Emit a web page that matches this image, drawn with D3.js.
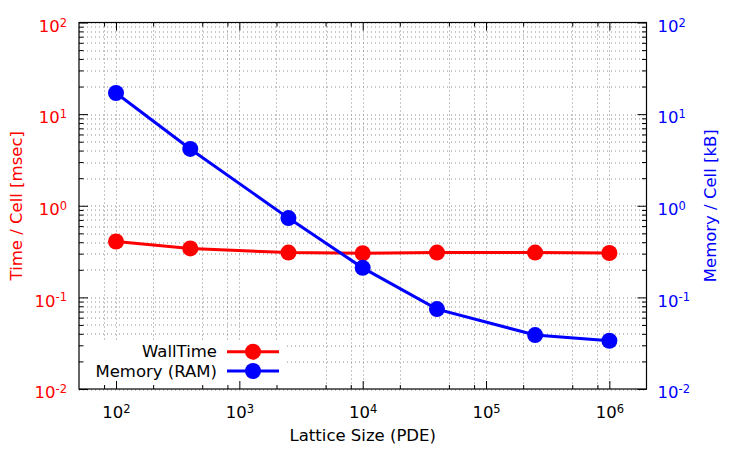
<!DOCTYPE html>
<html>
<head>
<meta charset="utf-8">
<script src="https://cdn.jsdelivr.net/npm/d3@7"></script>
<style>
  body { margin: 0; background: #fff; }
  text { font-family: "DejaVu Sans", sans-serif; }
</style>
</head>
<body>
<svg width="750" height="450"></svg>
<script>
// values
const latticeSizes = [100, 400, 2500, 10000, 40000, 250000, 1000000];
const wallTime = [0.407, 0.342, 0.308, 0.303, 0.308, 0.308, 0.305];
const memory = [17.0, 4.17, 0.733, 0.210, 0.0745, 0.0388, 0.0336];
const xMajorTicks = [1e2, 1e3, 1e4, 1e5, 1e6];
const yMajorTicks = [1e-2, 1e-1, 1e0, 1e1, 1e2];
const xMinorSteps = [2, 5, 8];
const yMinorSteps = [2, 3, 4, 5, 6, 7, 8, 9];
const seriesNames = ['WallTime', 'Memory (RAM)'];

const fontSize = 16.5;

const svg = d3.select('svg');
const margin = {
    top: 22.5, right: 103.5, bottom: 61, left: 79,
};
const width = +svg.attr('width') - margin.left - margin.right;
const height = +svg.attr('height') - margin.top - margin.bottom;

const x = d3.scaleLog()
    .domain([50.1, 2e6])
    .range([0, width]);

const yLeft = d3.scaleLog()
    .domain([1e-2, 1e2])
    .range([height, 0]);

const yRight = d3.scaleLog()
    .domain([1e-2, 1e2])
    .range([height, 0]);

const xMinor = [];
[10, 100, 1000, 10000, 100000, 1000000].forEach((d) => {
    xMinorSteps.forEach((m) => {
        const v = d * m;
        if (v > x.domain()[0] && v < x.domain()[1]) xMinor.push(v);
    });
});
const yMinor = [];
[1e-2, 1e-1, 1e0, 1e1].forEach((d) => {
    yMinorSteps.forEach(m => yMinor.push(d * m));
});

const g = svg.append('g').attr('transform', `translate(${margin.left},${margin.top})`);

// Grid.
const grid = g.append('g')
    .attr('stroke', '#8c8c8c')
    .attr('stroke-width', 1)
    .attr('stroke-dasharray', '1,3')
    .attr('fill', 'none');

grid.selectAll('.vgrid')
    .data(xMajorTicks.concat(xMinor))
    .enter().append('line')
    .attr('x1', d => Math.round(x(d)) + 0.5)
    .attr('x2', d => Math.round(x(d)) + 0.5)
    .attr('y1', 0)
    .attr('y2', height);

grid.selectAll('.hgrid')
    .data(yMajorTicks.concat(yMinor))
    .enter().append('line')
    .attr('y1', d => Math.round(yLeft(d)) + 0.5)
    .attr('y2', d => Math.round(yLeft(d)) + 0.5)
    .attr('x1', 0)
    .attr('x2', width);

// Legend box hides the grid behind it.
g.append('rect')
    .attr('x', 1)
    .attr('y', 319)
    .attr('width', 207)
    .attr('height', height - 320)
    .attr('fill', '#fff');

function powerLabel(sel, size) {
    sel.each(function label(d) {
        const t = d3.select(this);
        t.text(null);
        t.append('tspan').text('10');
        t.append('tspan')
            .attr('dy', '-0.45em')
            .attr('font-size', size)
            .text(Math.round(Math.log10(d)));
    });
}

// Axes, ticks point inward.
const xAxis = g.append('g')
    .attr('transform', `translate(0,${height})`)
    .call(d3.axisBottom(x).tickValues(xMajorTicks).tickSize(-8).tickPadding(17));
xAxis.selectAll('.tick text')
    .attr('font-size', fontSize)
    .attr('fill', '#000')
    .attr('font-family', 'DejaVu Sans')
    .call(powerLabel, '11.5px');

g.append('g')
    .attr('transform', `translate(0,${height})`)
    .call(d3.axisBottom(x).tickValues(xMinor).tickSize(-4).tickFormat(''));

g.append('g')
    .call(d3.axisTop(x).tickValues(xMajorTicks).tickSize(-8).tickFormat(''));
g.append('g')
    .call(d3.axisTop(x).tickValues(xMinor).tickSize(-4).tickFormat(''));

const yAxisLeft = g.append('g')
    .call(d3.axisLeft(yLeft).tickValues(yMajorTicks).tickSize(-9).tickPadding(12));
yAxisLeft.selectAll('.tick text')
    .attr('font-size', fontSize)
    .attr('fill', 'red')
    .attr('font-family', 'DejaVu Sans')
    .attr('dy', '0.53em')
    .call(powerLabel, '11.5px');
g.append('g')
    .call(d3.axisLeft(yLeft).tickValues(yMinor).tickSize(-4.5).tickFormat(''));

const yAxisRight = g.append('g')
    .attr('transform', `translate(${width},0)`)
    .call(d3.axisRight(yRight).tickValues(yMajorTicks).tickSize(-9).tickPadding(11));
yAxisRight.selectAll('.tick text')
    .attr('font-size', fontSize)
    .attr('fill', 'blue')
    .attr('font-family', 'DejaVu Sans')
    .attr('dy', '0.53em')
    .call(powerLabel, '11.5px');
g.append('g')
    .attr('transform', `translate(${width},0)`)
    .call(d3.axisRight(yRight).tickValues(yMinor).tickSize(-4.5).tickFormat(''));

g.selectAll('.domain').remove();
g.selectAll('.tick line').attr('stroke', '#000');

g.append('rect')
    .attr('width', width)
    .attr('height', height)
    .attr('fill', 'none')
    .attr('stroke', '#000')
    .attr('stroke-width', 1.2);

// Axis titles.
svg.append('text')
    .attr('transform', `translate(22,${margin.top + height / 2}) rotate(-90)`)
    .attr('text-anchor', 'middle')
    .attr('font-size', fontSize)
    .attr('fill', 'red')
    .text('Time / Cell [msec]');

svg.append('text')
    .attr('transform', `translate(716,${margin.top + height / 2}) rotate(-90)`)
    .attr('text-anchor', 'middle')
    .attr('font-size', fontSize)
    .attr('fill', 'blue')
    .text('Memory / Cell [kB]');

svg.append('text')
    .attr('x', margin.left + width / 2)
    .attr('y', 441)
    .attr('text-anchor', 'middle')
    .attr('font-size', fontSize)
    .attr('fill', '#000')
    .text('Lattice Size (PDE)');

// Series.
const lineLeft = d3.line()
    .x((d, i) => x(latticeSizes[i]))
    .y(d => yLeft(d));
const lineRight = d3.line()
    .x((d, i) => x(latticeSizes[i]))
    .y(d => yRight(d));

const series = [
    { name: seriesNames[0], values: wallTime, color: 'red', line: lineLeft, y: yLeft },
    { name: seriesNames[1], values: memory, color: 'blue', line: lineRight, y: yRight },
];

series.forEach((s) => {
    g.append('path')
        .datum(s.values)
        .attr('d', s.line)
        .attr('fill', 'none')
        .attr('stroke', s.color)
        .attr('stroke-width', 3);
    g.selectAll(null)
        .data(s.values)
        .enter().append('circle')
        .attr('cx', (d, i) => x(latticeSizes[i]))
        .attr('cy', d => s.y(d))
        .attr('r', 8)
        .attr('fill', s.color);
});

// Legend.
const legend = g.append('g');
series.forEach((s, i) => {
    const ly = 329.2 + i * 19.3;
    legend.append('text')
        .attr('x', 138)
        .attr('y', ly)
        .attr('dy', '0.35em')
        .attr('text-anchor', 'end')
        .attr('font-size', fontSize)
        .attr('fill', '#000')
        .text(s.name);
    legend.append('line')
        .attr('x1', 148)
        .attr('x2', 200)
        .attr('y1', ly)
        .attr('y2', ly)
        .attr('stroke', s.color)
        .attr('stroke-width', 3);
    legend.append('circle')
        .attr('cx', 174)
        .attr('cy', ly)
        .attr('r', 8)
        .attr('fill', s.color);
});
</script>
</body>
</html>
